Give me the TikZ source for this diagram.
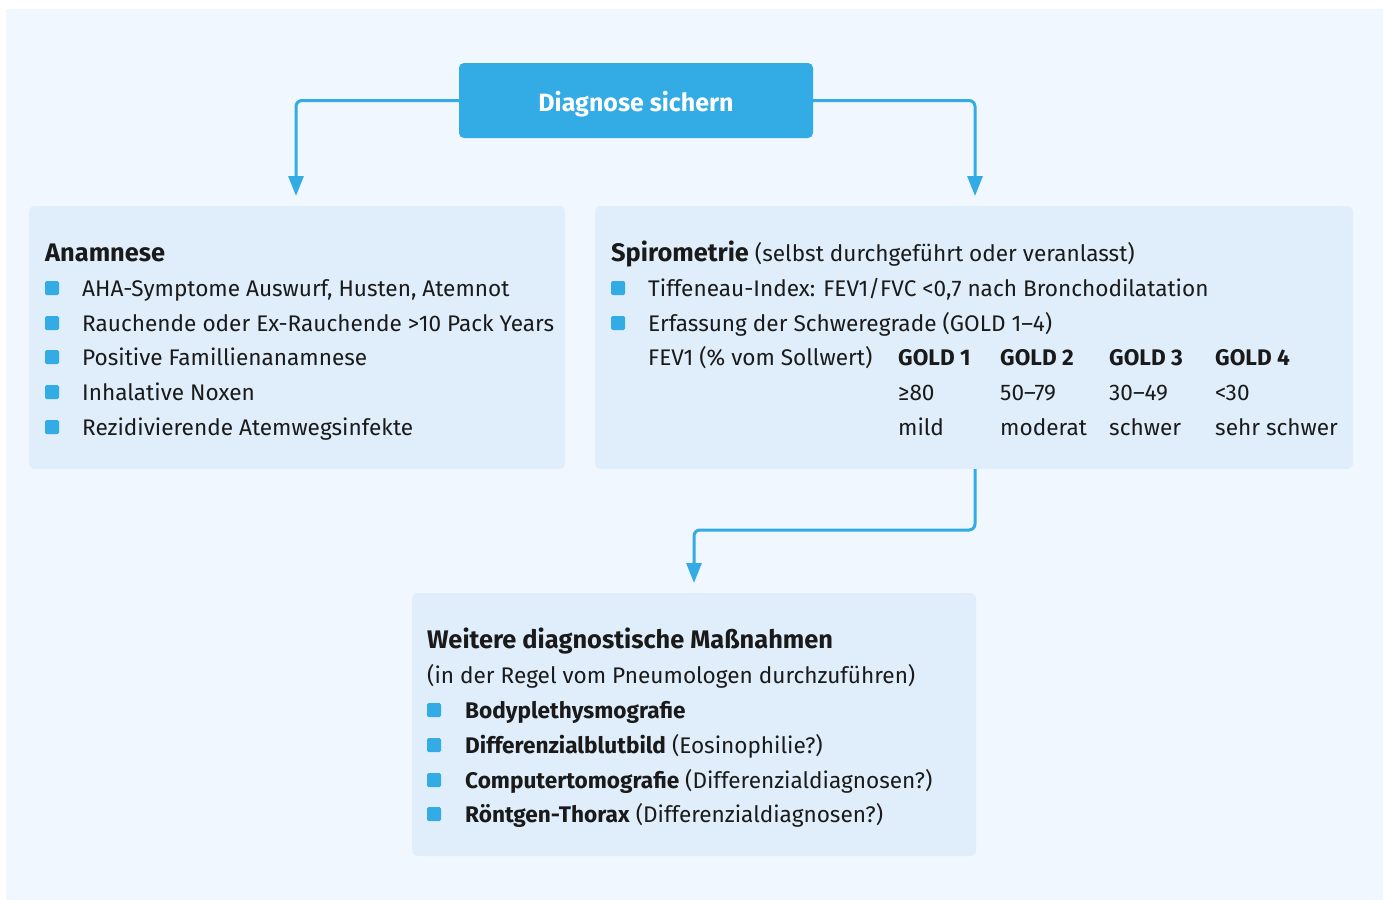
\documentclass[tikz,border=0pt]{standalone}
\usepackage{fontspec}
\setmainfont{Fira Sans}
\usetikzlibrary{arrows.meta}
\definecolor{bgc}{HTML}{F0F7FE}
\definecolor{boxc}{HTML}{E0EEFB}
\definecolor{bluec}{HTML}{33ABE4}
\definecolor{txtc}{HTML}{1A1A1A}
\tikzset{
  panel/.style={fill=boxc, rounded corners=6pt, draw=none},
  txt/.style={anchor=base west, inner sep=0pt, font=\fontsize{22.6}{27}\selectfont, text=txtc},
  ttl/.style={txt, font=\fontsize{25.4}{29}\selectfont\bfseries},
  bul/.style={fill=bluec, rounded corners=1.5pt, minimum size=14pt, inner sep=0pt, draw=none},
  conn/.style={draw=bluec, line width=3pt, rounded corners=6pt, -{Triangle[length=20pt,width=15pt]}},
}
\begin{document}
\begin{tikzpicture}[x=1pt,y=-1pt]
\useasboundingbox (0,0) rectangle (1386,902);
\fill[white] (0,0) rectangle (1386,902);
\fill[bgc] (6,9) rectangle (1383,900);
% top box
\node[fill=bluec, rounded corners=5pt, minimum width=354pt, minimum height=75pt, inner sep=0pt,
  label={[yshift=-4pt, text=white, font=\fontsize{25}{29}\selectfont\bfseries]center:Diagnose sichern}] (top) at (636,100.5) {};
% panels
\path[panel] (29,206) rectangle (565,469);
\path[panel] (595,206) rectangle (1353,469);
\path[panel] (412,593) rectangle (976,856);
\coordinate (la) at (296,196);
\coordinate (ra) at (975,196);
\coordinate (rb) at (975,469);
\coordinate (ba) at (694,583);
\draw[conn] (top.west) -| (la);
\draw[conn] (top.east) -| (ra);
\draw[conn] (rb) -- (975,530) -| (ba);
% left panel
\node[ttl] (lt) at (45,261) {Anamnese};
\foreach \y/\t [count=\i] in {288/{AHA-Symptome Auswurf, Husten, Atemnot},
  323/{Rauchende oder Ex-Rauchende >10 Pack Years},
  357/{Positive Famillienanamnese},
  392/{Inhalative Noxen},
  427/{Rezidivierende Atemwegsinfekte}}{
  \node[bul] (lb\i) at (52,\y) {};
  \node[txt] (ll\i) at (82,\y+8) {\t};
}
% right panel
\node[txt] (rt) at (611,261) {\textbf{\fontsize{25.4}{29}\selectfont Spirometrie} (selbst durchgeführt oder veranlasst)};
\node[bul] (rb1) at (618,288) {};
\node[txt] (rl1) at (648,296) {Tiffeneau-Index: FEV1/FVC <0,7 nach Bronchodilatation};
\node[bul] (rb2) at (618,323) {};
\node[txt] (rl2) at (648,331) {Erfassung der Schweregrade (GOLD 1–4)};
\node[txt] (fev) at (648,365) {FEV1 (\% vom Sollwert)};
\foreach \x/\g/\v/\s [count=\i] in {898/1/≥80/mild, 1000/2/50–79/moderat, 1109/3/30–49/schwer, 1215/4/<30/sehr schwer}{
  \node[txt] (g\i) at (\x,365) {\textbf{GOLD \g}};
  \node[txt] (v\i) at (\x,400) {\v};
  \node[txt] (s\i) at (\x,435) {\s};
}
% bottom panel
\node[ttl] (bt) at (427,648) {Weitere diagnostische Maßnahmen};
\node[txt] (bs) at (427,683) {(in der Regel vom Pneumologen durchzuführen)};
\foreach \y/\t [count=\i] in {710/{\textbf{Bodyplethysmografie}},
  745/{\textbf{Differenzialblutbild} (Eosinophilie?)},
  780/{\textbf{Computertomografie} (Differenzialdiagnosen?)},
  814/{\textbf{Röntgen-Thorax} (Differenzialdiagnosen?)}}{
  \node[bul] (bb\i) at (434,\y) {};
  \node[txt] (bl\i) at (465,\y+8) {\t};
}
\end{tikzpicture}
\end{document}
